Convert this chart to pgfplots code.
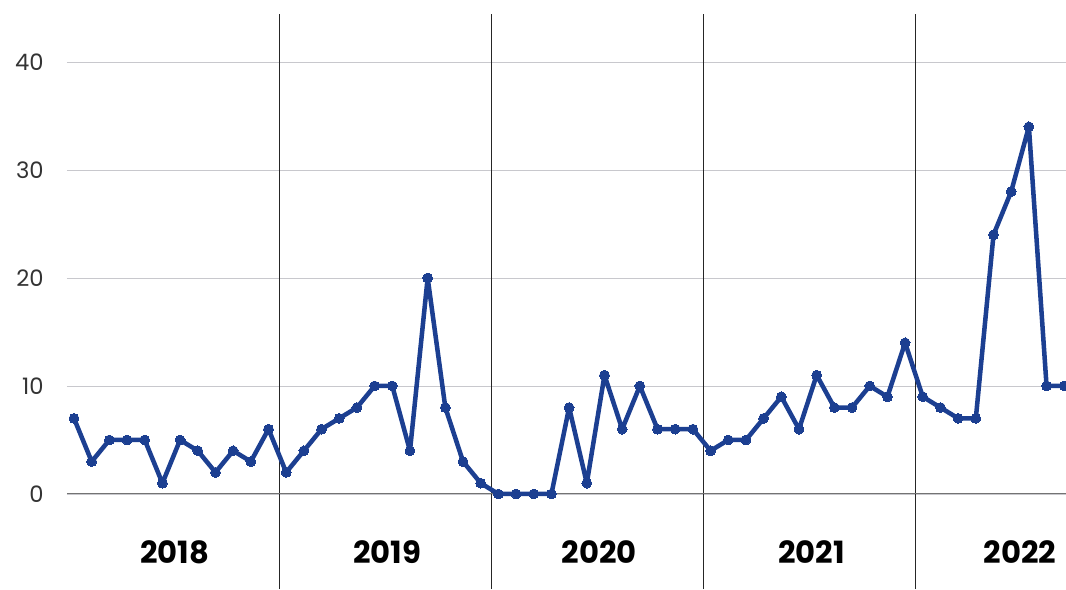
\documentclass[border=0pt]{standalone}
\usepackage{pgfplots}
\pgfplotsset{compat=1.18}
\usepackage{fontspec}
\setmainfont{Poppins}
\definecolor{lineblue}{RGB}{28,63,145}
\definecolor{gridgray}{RGB}{200,200,205}
\begin{document}
\begin{tikzpicture}
\begin{axis}[
  scale only axis,
  width=749.25pt, height=431.25pt,
  xmin=-0.396, xmax=56.1,
  ymin=-8.8, ymax=44.44,
  axis line style={draw=none},
  major tick length=0pt,
  ytick={0,10,20,30,40},
  xtick=\empty,
  ymajorgrids,
  grid style={gridgray, line width=0.6pt},
  extra x ticks={11.6,23.6,35.6,47.6},
  extra x tick labels={},
  extra x tick style={grid=major, major grid style={black!85, line width=0.9pt}, major tick length=0pt},
  yticklabel style={font=\fontsize{17}{19}\selectfont, text=black!80, anchor=east, xshift=-14pt},
  /pgf/number format/assume math mode=true,
  clip=true,
]
\addplot[draw=black!55, line width=0.8pt, forget plot] coordinates {(-0.396,0) (56.1,0)};
\addplot[lineblue, line width=3.4pt, mark=*, mark size=3.7pt, mark options={fill=lineblue, draw=lineblue, line width=0pt}, line join=round]
coordinates {
(0,7) (1,3) (2,5) (3,5) (4,5) (5,1) (6,5) (7,4) (8,2) (9,4) (10,3) (11,6)
(12,2) (13,4) (14,6) (15,7) (16,8) (17,10) (18,10) (19,4) (20,20) (21,8) (22,3) (23,1)
(24,0) (25,0) (26,0) (27,0) (28,8) (29,1) (30,11) (31,6) (32,10) (33,6) (34,6) (35,6)
(36,4) (37,5) (38,5) (39,7) (40,9) (41,6) (42,11) (43,8) (44,8) (45,10) (46,9) (47,14)
(48,9) (49,8) (50,7) (51,7) (52,24) (53,28) (54,34) (55,10) (56,10) (57,10)
};
\node[font=\bfseries\fontsize{23}{25}\selectfont] at (axis cs:5.7,-5.4) {2018};
\node[font=\bfseries\fontsize{23}{25}\selectfont] at (axis cs:17.7,-5.4) {2019};
\node[font=\bfseries\fontsize{23}{25}\selectfont] at (axis cs:29.7,-5.4) {2020};
\node[font=\bfseries\fontsize{23}{25}\selectfont] at (axis cs:41.7,-5.4) {2021};
\node[font=\bfseries\fontsize{23}{25}\selectfont] at (axis cs:53.5,-5.4) {2022};
\end{axis}
\pgfresetboundingbox
\path (-50.25pt,0pt) rectangle (749.25pt,441.75pt);
\end{tikzpicture}
\end{document}
